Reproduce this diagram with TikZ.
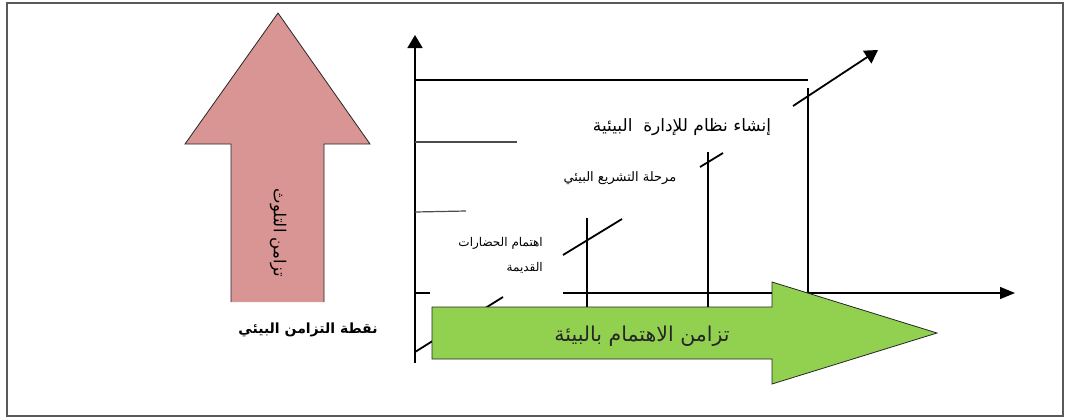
\documentclass[tikz,border=0pt]{standalone}
\usepackage{fontspec}
\newfontfamily\arabicfont[Script=Arabic]{DejaVu Sans}
\TeXXeTstate=1
\usetikzlibrary{arrows.meta}
\definecolor{pinkfill}{HTML}{D99594}
\definecolor{greenfill}{HTML}{92D050}
\begin{document}
\begin{tikzpicture}[x=1pt,y=-1pt,
  frame/.style={draw=black!65,line width=1.5pt},
  axis/.style={line width=1.8pt},
  thin/.style={line width=1.2pt},
  tick/.style={line width=1.2pt,draw=black!70},
  diag/.style={line width=1.8pt},
  bigarrow/.style={draw=black!85,line width=0.8pt},
  lab/.style={inner sep=1pt,font=\arabicfont\fontsize{#1}{#1}\selectfont},
  tipA/.style={-{Triangle[length=13pt,width=15pt]}},
  tipB/.style={-{Triangle[length=15pt,width=12pt]}}
]
\useasboundingbox (0,0) rectangle (1067,418);
\draw[frame] (7,3) rectangle (1063,416);

% pink arrow (no outline on its bottom edge)
\fill[pinkfill] (231,302) -- (231,144) -- (185,144) -- (278,13) -- (370,144) -- (324,144) -- (324,302) -- cycle;
\draw[bigarrow] (231,302) -- (231,144) -- (185,144) -- (278,13) -- (370,144) -- (324,144) -- (324,302);
\node[lab=16.5,rotate=-90] (poll) at (278,233) {\beginR تزامن التلوث\endR};
\node[font=\arabicfont\bfseries\fontsize{14}{14}\selectfont,inner sep=1pt] (point) at (308,330) {\beginR نقطة التزامن البيئي\endR};

% coordinates
\coordinate (O) at (415,363);
\coordinate (Ytop) at (415,35);
\coordinate (Xa) at (415,293);
\coordinate (Xb) at (430,293);
\coordinate (Xc) at (563,293);
\coordinate (Xend) at (1015,293);
\coordinate (T1) at (415,80);
\coordinate (T2) at (808,80);
\coordinate (S1a) at (415,142);
\coordinate (S1b) at (517,142);
\coordinate (S2a) at (415,212);
\coordinate (S2b) at (466,211);
\coordinate (V1a) at (587,218);
\coordinate (V1b) at (587,307);
\coordinate (V2a) at (708,152);
\coordinate (V2b) at (708,307);
\coordinate (V3a) at (808,88);
\coordinate (V3b) at (808,293);
\coordinate (D0a) at (415,352);
\coordinate (D0b) at (503,297);
\coordinate (D1a) at (563,255);
\coordinate (D1b) at (622,219);
\coordinate (D2a) at (700,167);
\coordinate (D2b) at (723,153);
\coordinate (D3a) at (793,106);
\coordinate (D3b) at (878,50);

\draw[axis,tipA] (O) -- (Ytop);
\draw[thin] (Xa) -- (Xb);
\draw[thin,tipB] (Xc) -- (Xend);
\draw[thin] (T1) -- (T2);
\draw[tick] (S1a) -- (S1b);
\draw[tick] (S2a) -- (S2b);
\draw[thin] (V1a) -- (V1b);
\draw[thin] (V2a) -- (V2b);
\draw[thin] (V3a) -- (V3b);
\draw[diag] (D0a) -- (D0b);
\draw[diag] (D1a) -- (D1b);
\draw[diag] (D2a) -- (D2b);
\draw[diag,tipA] (D3a) -- (D3b);

% labels
\node[lab=17] (l1) at (682,127) {\beginR إنشاء نظام للإدارة\ \ البيئية\endR};
\node[lab=13] (l2) at (620,178) {\beginR مرحلة التشريع البيئي\endR};
\node[lab=12,anchor=east] (l3) at (544,243) {\beginR اهتمام الحضارات\endR};
\node[lab=12,anchor=east] (l4) at (544,268) {\beginR القديمة\endR};

% green arrow
\draw[bigarrow,fill=greenfill] (432,307) -- (772,307) -- (772,282) -- (937,333) -- (772,384) -- (772,359) -- (432,359) -- cycle;
\node[lab=20.5,text=black!85] (sync) at (642,336) {\beginR تزامن الاهتمام بالبيئة\endR};
\end{tikzpicture}
\end{document}
